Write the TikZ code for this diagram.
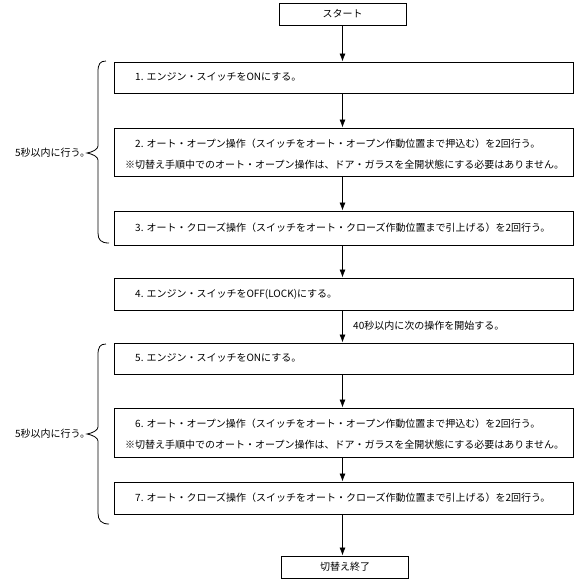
\documentclass[tikz,border=0pt]{standalone}
\usepackage{fontspec}
\setmainfont{Noto Sans CJK JP}
\usetikzlibrary{arrows.meta}
\tikzset{
  boxnode/.style={draw=black, line width=0.9pt, inner sep=0pt, minimum width=459pt},
  smallbox/.style={draw=black, line width=0.9pt, inner sep=0pt, minimum width=127pt, minimum height=22pt},
  txt/.style={anchor=west, inner sep=0pt, font=\fontsize{10}{12}\selectfont},
  ctxt/.style={inner sep=0pt, font=\fontsize{10}{12}\selectfont},
  conn/.style={line width=0.8pt, -{Latex[length=8pt,width=6pt]}},
  bracestyle/.style={line width=0.8pt}
}
\begin{document}
\begin{tikzpicture}[x=1pt,y=-1pt]
\useasboundingbox (0,0) rectangle (577,582);
% start
\node[smallbox] (start) at (342.5,14) {};
\node[ctxt] (starttxt) at (start.center) {スタート};
% boxes
\node[boxnode, minimum height=31pt] (b1) at (343.5,77.5) {};
\node[txt] (t1) at (135,77) {1. エンジン・スイッチをONにする。};
\node[boxnode, minimum height=48pt] (b2) at (343.5,152) {};
\node[txt] (t2a) at (135,144) {2. オート・オープン操作（スイッチをオート・オープン作動位置まで押込む）を2回行う。};
\node[txt] (t2b) at (125,165) {※切替え手順中でのオート・オープン操作は、ドア・ガラスを全開状態にする必要はありません。};
\node[boxnode, minimum height=34pt] (b3) at (343.5,228) {};
\node[txt] (t3) at (135,228) {3. オート・クローズ操作（スイッチをオート・クローズ作動位置まで引上げる）を2回行う。};
\node[boxnode, minimum height=32pt] (b4) at (343.5,294) {};
\node[txt] (t4) at (135,294) {4. エンジン・スイッチをOFF(LOCK)にする。};
\node[txt] (lbl40) at (353,326) {40秒以内に次の操作を開始する。};
\node[boxnode, minimum height=31pt] (b5) at (343.5,358.5) {};
\node[txt] (t5) at (135,358) {5. エンジン・スイッチをONにする。};
\node[boxnode, minimum height=49pt] (b6) at (343.5,432.5) {};
\node[txt] (t6a) at (135,424) {6. オート・オープン操作（スイッチをオート・オープン作動位置まで押込む）を2回行う。};
\node[txt] (t6b) at (125,445) {※切替え手順中でのオート・オープン操作は、ドア・ガラスを全開状態にする必要はありません。};
\node[boxnode, minimum height=32pt] (b7) at (343.5,498) {};
\node[txt] (t7) at (135,498) {7. オート・クローズ操作（スイッチをオート・クローズ作動位置まで引上げる）を2回行う。};
\node[smallbox] (end) at (345,567) {};
\node[ctxt] (endtxt) at (end.center) {切替え終了};
% connectors
\draw[conn] (start.south) -- (b1.north -| start.south);
\draw[conn] (b1.south -| start.south) -- (b2.north -| start.south);
\draw[conn] (b2.south -| start.south) -- (b3.north -| start.south);
\draw[conn] (b3.south -| start.south) -- (b4.north -| start.south);
\draw[conn] (b4.south -| start.south) -- (b5.north -| start.south);
\draw[conn] (b5.south -| start.south) -- (b6.north -| start.south);
\draw[conn] (b6.south -| start.south) -- (b7.north -| start.south);
\draw[conn] (b7.south -| start.south) -- (end.north -| start.south);
% braces
\node[txt] (lblA) at (15,153) {5秒以内に行う。};
\node[txt] (lblB) at (15,434) {5秒以内に行う。};
\draw[bracestyle] (106,61) .. controls (100,61) and (98,64) .. (98,72) -- (98,146)
  .. controls (98,149) and (93,152) .. (87,153) .. controls (93,154) and (98,157) .. (98,160)
  -- (98,233) .. controls (98,240) and (101,243) .. (109,243);
\draw[bracestyle] (106,344) .. controls (100,344) and (98,347) .. (98,355) -- (98,427)
  .. controls (98,430) and (93,433) .. (87,434) .. controls (93,435) and (98,438) .. (98,441)
  -- (98,513) .. controls (98,520) and (101,524) .. (109,524);
\end{tikzpicture}
\end{document}
